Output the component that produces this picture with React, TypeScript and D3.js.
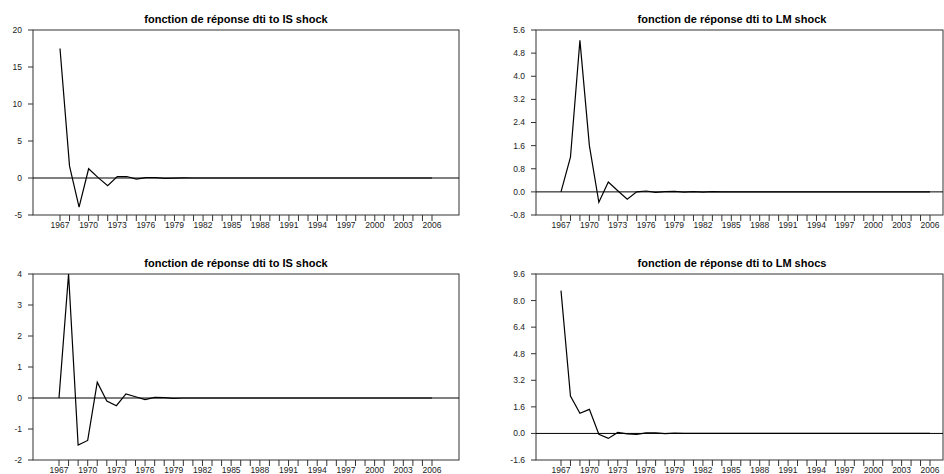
import * as d3 from "d3";
import React from "react";

// impulse responses, one value per year from 1967 to 2006
const isShockA = [17.5, 1.6, -3.95, 1.25, 0.05, -1.05, 0.18, 0.2, -0.15, 0.06, 0.05, -0.05, -0.02, 0.01,
    0, 0, 0, 0, 0, 0, 0, 0, 0, 0, 0, 0, 0, 0, 0, 0, 0, 0, 0, 0, 0, 0, 0, 0, 0, 0];
const lmShockA = [0, 1.2, 5.24, 1.6, -0.36, 0.34, 0.04, -0.25, 0, 0.03, -0.02, 0.01, 0.02, -0.01,
    0.01, -0.01, 0.01, 0, 0, 0, 0, 0, 0, 0, 0, 0, 0, 0, 0, 0, 0, 0, 0, 0, 0, 0, 0, 0, 0, 0];
const isShockB = [0, 4.0, -1.52, -1.37, 0.51, -0.1, -0.25, 0.13, 0.04, -0.05, 0.02, 0.01, -0.01, 0,
    0, 0, 0, 0, 0, 0, 0, 0, 0, 0, 0, 0, 0, 0, 0, 0, 0, 0, 0, 0, 0, 0, 0, 0, 0, 0];
const lmShockB = [8.6, 2.25, 1.21, 1.45, -0.05, -0.3, 0.06, -0.03, -0.06, 0.03, 0.03, -0.01, 0.02, 0,
    0, 0, 0, 0, 0, 0, 0, 0, 0, 0, 0, 0, 0, 0, 0, 0, 0, 0, 0, 0, 0, 0, 0, 0, 0, 0];

const firstYear = 1967;
const yearLabels = [1967, 1970, 1973, 1976, 1979, 1982, 1985, 1988, 1991, 1994, 1997, 2000, 2003, 2006];

const ticksIsA = [-5, 0, 5, 10, 15, 20];
const ticksLmA = [-0.8, 0, 0.8, 1.6, 2.4, 3.2, 4.0, 4.8, 5.6];
const ticksIsB = [-2, -1, 0, 1, 2, 3, 4];
const ticksLmB = [-1.6, 0, 1.6, 3.2, 4.8, 6.4, 8.0, 9.6];

const titles = [
    "fonction de réponse dti to IS shock",
    "fonction de réponse dti to LM shock",
    "fonction de réponse dti to IS shock",
    "fonction de réponse dti to LM shocs",
];

const font = "Arial, 'Liberation Sans', sans-serif";

// plain hyphen for negatives, like the original
const locale = d3.formatLocale({decimal: ".", thousands: ",", grouping: [3], currency: ["", ""], minus: "-"});

function Panel(props) {
    const {left, right, top, bottom, x0, x1, values, ticks, decimals, title, titleX} = props;

    const x = d3.scaleLinear().domain([firstYear, 2006]).range([x0, x1]);
    const y = d3.scaleLinear().domain([ticks[0], ticks[ticks.length - 1]]).range([bottom, top]);

    const line = d3.line()
        .x((d, i) => x(firstYear + i))
        .y(d => y(d));

    const fmt = locale.format(decimals ? ".1f" : "d");
    const years = values.map((d, i) => firstYear + i);

    return (
        <g>
            <text x={titleX} y={top - 7} textAnchor="middle" fontFamily={font}
                  fontWeight="bold" fontSize={11}>{title}</text>
            <rect x={left} y={top} width={right - left} height={bottom - top}
                  fill="none" stroke="#333" strokeWidth={1}/>
            {ticks.map(t => (
                <g key={t}>
                    <line x1={left - 5} x2={left} y1={y(t)} y2={y(t)} stroke="#333"/>
                    <text x={left - 11} y={y(t)} dy="0.35em" textAnchor="end"
                          fontFamily={font} fontSize={8.5} fill="#222">{fmt(t)}</text>
                </g>
            ))}
            {years.map(yr => (
                <line key={yr} x1={x(yr)} x2={x(yr)} y1={bottom} y2={bottom + 6} stroke="#333"/>
            ))}
            {yearLabels.map(yr => (
                <text key={yr} x={x(yr)} y={bottom + 13} textAnchor="middle"
                      fontFamily={font} fontSize={8.5} fill="#222">{yr}</text>
            ))}
            <line x1={left} x2={right} y1={y(0)} y2={y(0)} stroke="#000" strokeWidth={1}/>
            <path d={line(values)} fill="none" stroke="#000" strokeWidth={1.2}/>
        </g>
    );
}

export default function App() {
    return (
        <div style={{position: "absolute", left: 0, top: 0}}>
            <svg width={944} height={474} style={{display: "block", background: "#fff"}}>
                <Panel left={33} right={459} top={30} bottom={215} x0={60} x1={432}
                       values={isShockA} ticks={ticksIsA} decimals={false} title={titles[0]} titleX={236}/>
                <Panel left={536} right={943} top={30} bottom={215} x0={561} x1={930}
                       values={lmShockA} ticks={ticksLmA} decimals={true} title={titles[1]} titleX={732}/>
                <Panel left={33} right={459} top={274} bottom={460} x0={59} x1={432}
                       values={isShockB} ticks={ticksIsB} decimals={false} title={titles[2]} titleX={236}/>
                <Panel left={536} right={943} top={274} bottom={460} x0={561} x1={930}
                       values={lmShockB} ticks={ticksLmB} decimals={true} title={titles[3]} titleX={732}/>
            </svg>
        </div>
    );
}
